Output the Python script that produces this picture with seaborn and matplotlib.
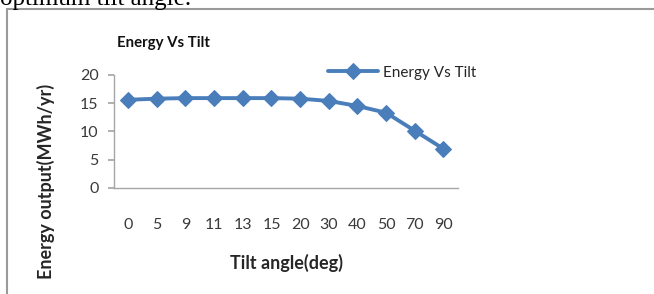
import matplotlib
matplotlib.use("Agg")
import matplotlib.pyplot as plt
import seaborn as sns
import pandas as pd

# tilt angles (categories) and yearly energy output
tilt = ["0", "5", "9", "11", "13", "15", "20", "30", "40", "50", "70", "90"]
energy = [15.6, 15.8, 15.9, 15.9, 15.9, 15.9, 15.8, 15.4, 14.5, 13.3, 10.1, 6.9]

df = pd.DataFrame({"tilt": tilt, "energy": energy})

sns.set_theme(style="white")
plt.rcParams["font.family"] = ["Lato", "DejaVu Sans"]

fig = plt.figure(figsize=(6.54, 2.94), dpi=100)
ax = fig.add_axes([0.174, 0.3616, 0.526, 0.3833])

blue = "#4A7EBB"
sns.lineplot(data=df, x="tilt", y="energy", ax=ax, color=blue, marker="D",
             markersize=8.5, markeredgecolor=blue, linewidth=2.8,
             label="Energy Vs Tilt", sort=False)

ax.set_ylim(0, 20)
ax.set_yticks([0, 5, 10, 15, 20])
ax.set_xlim(-0.5, len(tilt) - 0.5)

for s in ["top", "right"]:
    ax.spines[s].set_visible(False)
for s in ["left", "bottom"]:
    ax.spines[s].set_color("#a6a6a6")
    ax.spines[s].set_linewidth(1)
ax.tick_params(axis="y", length=4, color="#a6a6a6", left=True, labelsize=11.5,
               labelcolor="#3a3a3a", pad=7)
ax.tick_params(axis="x", length=0, labelsize=11.5, labelcolor="#3a3a3a", pad=22)

ax.set_xlabel("Tilt angle(deg)", fontsize=13, fontweight="bold")
ax.set_ylabel("Energy output(MWh/yr)", fontsize=13, fontweight="bold")
ax.xaxis.set_label_coords(0.503, -0.585)
ax.yaxis.set_label_coords(-0.172, 0.053)
ax.text(0.009, 1.287, "Energy Vs Tilt", transform=ax.transAxes, fontsize=10.8,
        fontweight="bold", ha="left", va="center", color="#111111")

ax.legend(loc="center left", bbox_to_anchor=(0.622, 1.02), frameon=False,
          fontsize=11, handlelength=3.3, handletextpad=0.3,
          borderaxespad=0, borderpad=0)

# surrounding chart border and clipped caption above it
fig.add_artist(plt.Line2D([7 / 654, 1.0], [1 - 9 / 294, 1 - 9 / 294],
                          transform=fig.transFigure, color="#9a9a9a", linewidth=1.5))
fig.add_artist(plt.Line2D([7 / 654, 7 / 654], [0, 1 - 9 / 294],
                          transform=fig.transFigure, color="#9a9a9a", linewidth=1.5))
fig.text(0.0, 1 - 5 / 294, "optimum tilt angle.", fontsize=18,
         family="Liberation Serif", ha="left", va="baseline", color="black")

fig.savefig("out.png", dpi=100)
